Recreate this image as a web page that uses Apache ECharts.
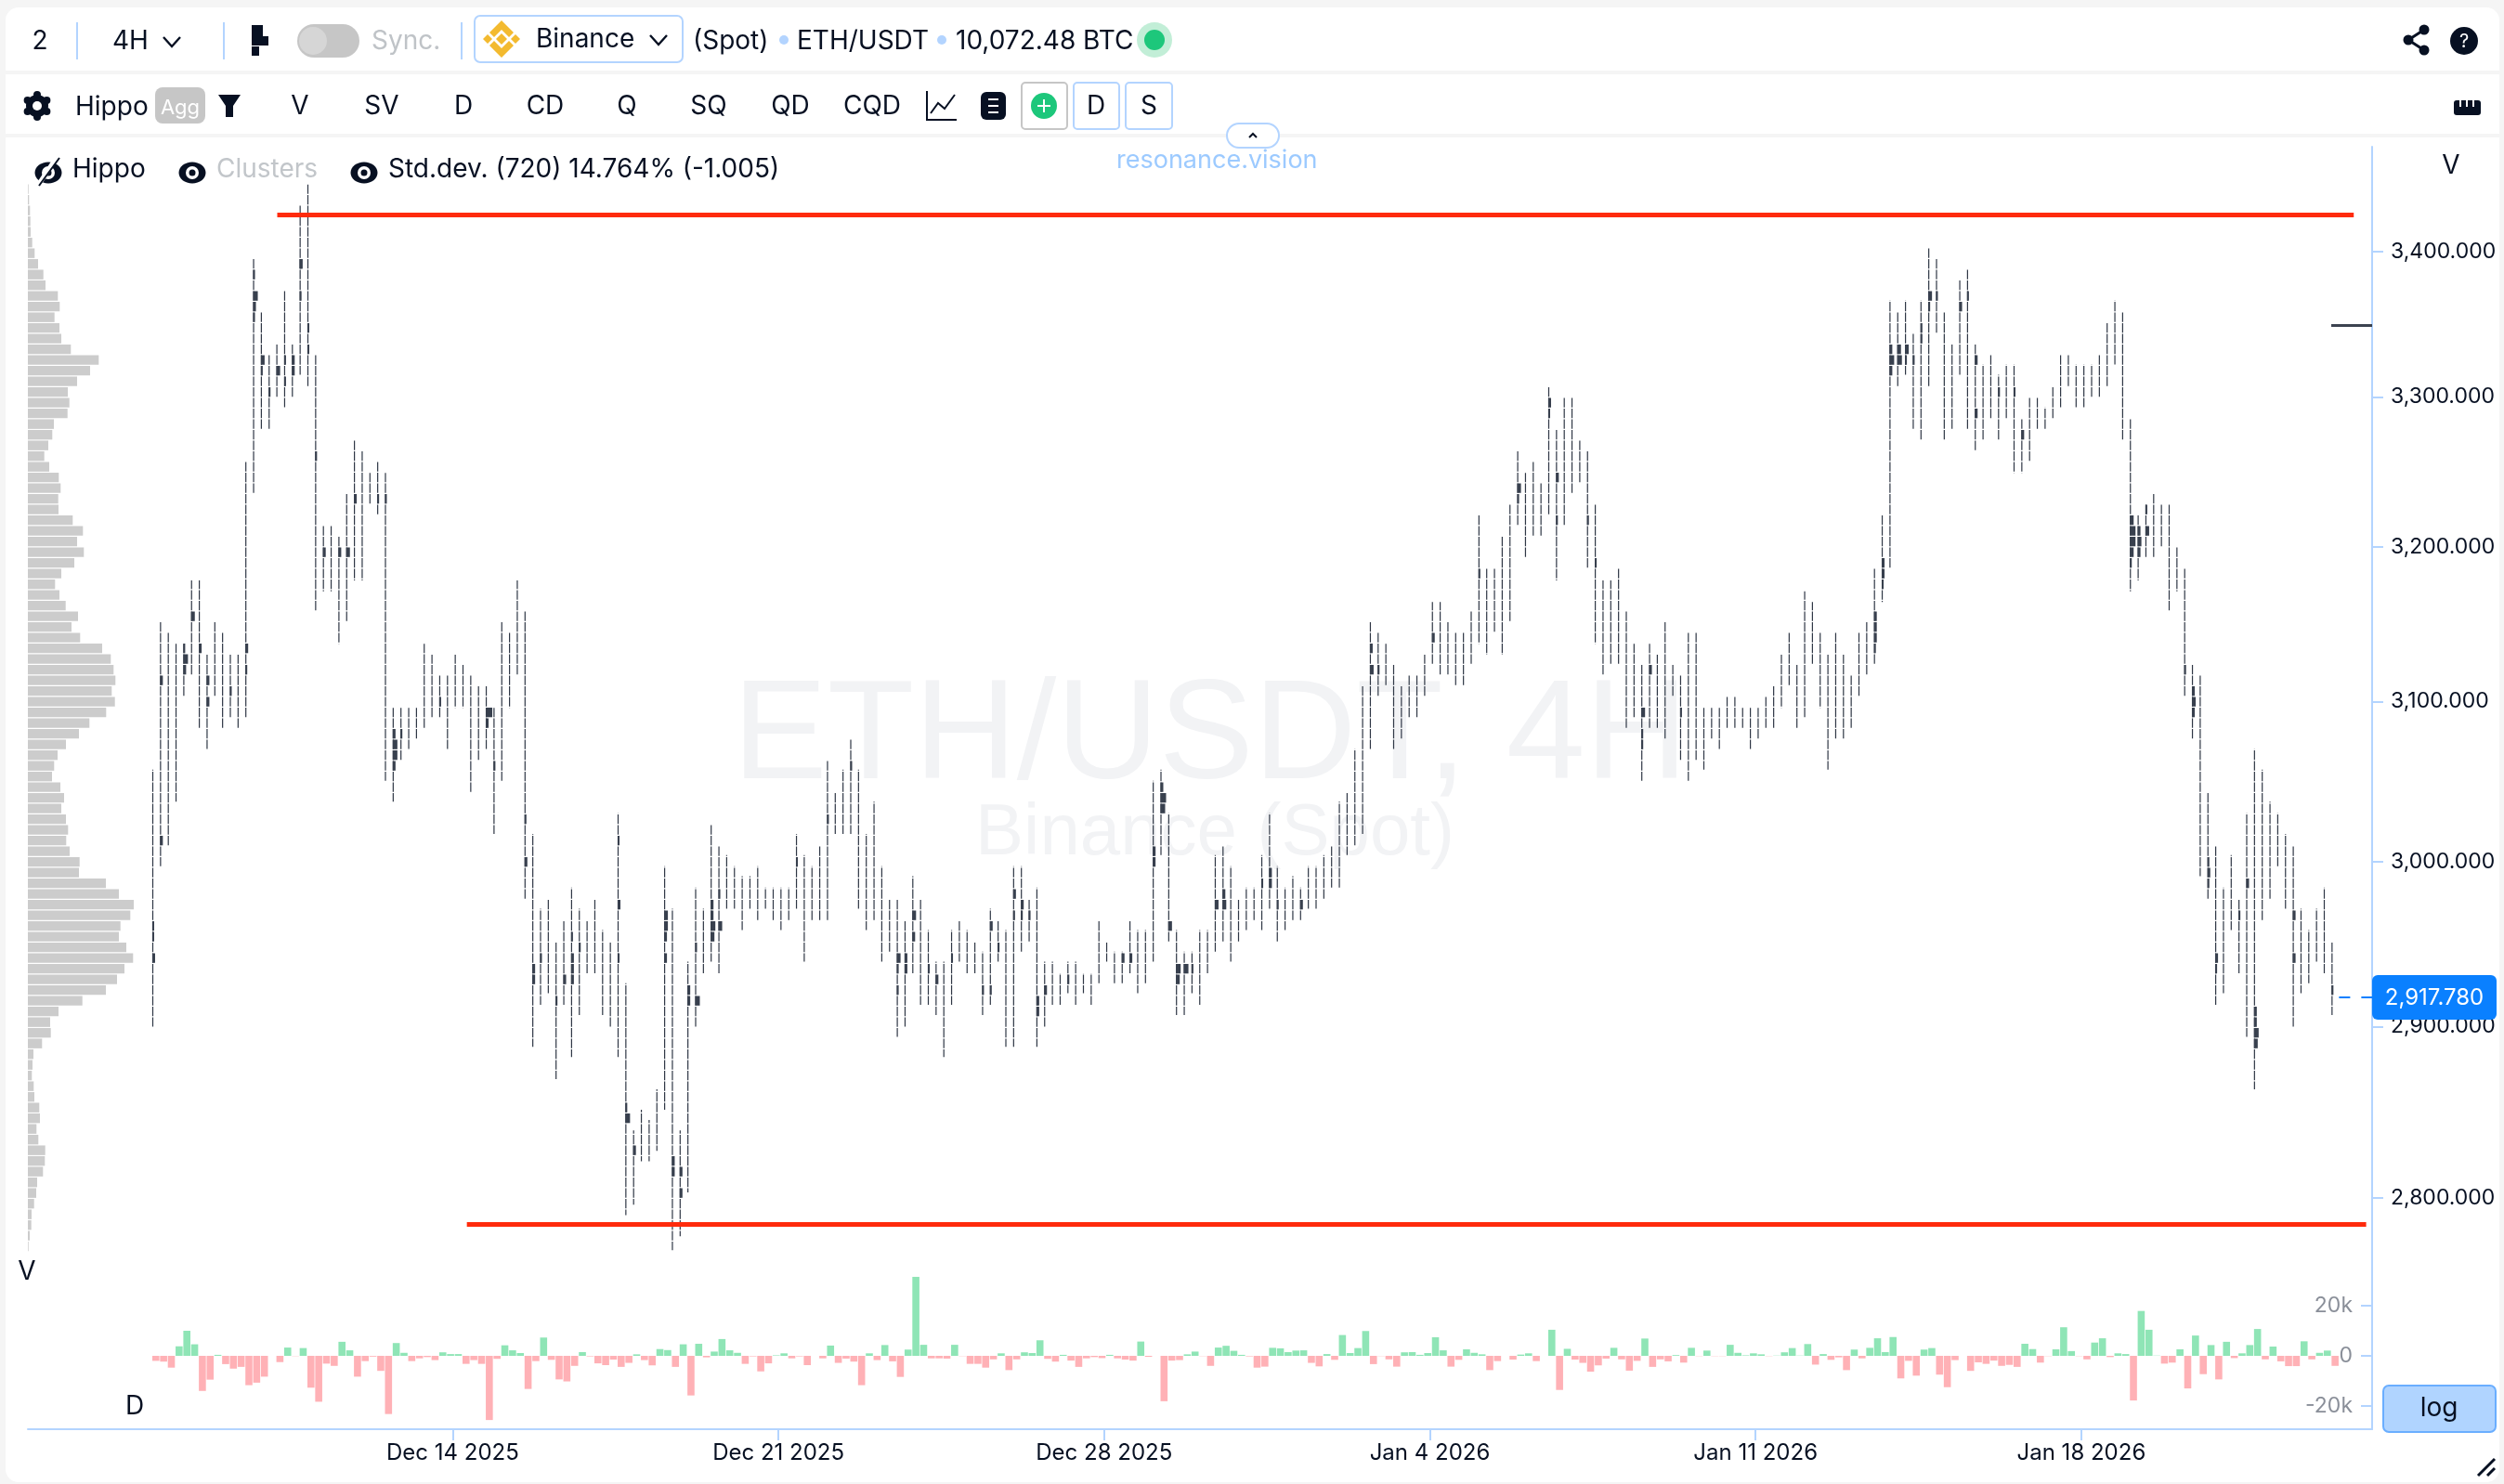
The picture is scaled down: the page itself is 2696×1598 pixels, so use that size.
<!DOCTYPE html>
<html>
<head>
<meta charset="utf-8">
<style>
  html, body { margin: 0; padding: 0; background: #f5f5f5; }
  #chart { width: 2696px; height: 1598px; }
</style>
<script src="https://cdn.jsdelivr.net/npm/echarts@6/dist/echarts.min.js"></script>
</head>
<body>
<div id="chart"></div>
<script>
// one entry per 4H bar
const barHighs = [
  3057,3151,3144,3137,3137,3178,3178,3130,3151,3144,
  3130,3130,3257,3395,3358,3329,3336,3373,3336,3432,
  3447,3329,3214,3214,3207,3235,3271,3264,3249,3257,
  3249,3096,3096,3096,3096,3137,3130,3117,3117,3130,
  3124,3117,3110,3110,3096,3151,3144,3178,3158,3017,
  2971,2977,2951,2964,2984,2971,2964,2977,2958,2951,
  3030,2926,2839,2851,2845,2863,2997,2971,2839,2939,
  2984,2971,3023,3010,3004,2997,2991,2991,2997,2984,
  2984,2984,2984,3017,3004,2997,3010,3063,3043,3057,
  3076,3057,3017,3037,2997,2977,2977,2964,2991,2977,
  2958,2939,2939,2958,2964,2958,2951,2945,2971,2964,
  2958,2997,2997,2977,2984,2939,2939,2932,2939,2939,
  2932,2932,2964,2951,2945,2945,2964,2958,2958,3050,
  3057,3030,2958,2945,2945,2958,2958,3004,3010,2997,
  2977,2984,2984,3004,3030,2997,2984,2991,2984,2997,
  2997,3004,3010,3037,3043,3070,3110,3151,3144,3137,
  3124,3110,3117,3117,3130,3164,3164,3151,3144,3144,
  3158,3221,3186,3186,3207,3228,3264,3249,3257,3242,
  3307,3278,3300,3300,3271,3264,3228,3178,3178,3186,
  3158,3137,3124,3137,3130,3151,3124,3117,3144,3144,
  3096,3096,3096,3103,3103,3096,3096,3096,3103,3110,
  3130,3144,3124,3171,3164,3144,3130,3144,3130,3117,
  3144,3151,3186,3221,3366,3358,3366,3343,3366,3402,
  3395,3358,3336,3380,3388,3336,3322,3329,3315,3322,
  3322,3285,3300,3300,3293,3307,3329,3329,3322,3322,
  3322,3329,3351,3366,3358,3285,3221,3228,3235,3228,
  3228,3200,3186,3124,3117,3043,3010,2984,3004,2977,
  3030,3070,3057,3037,3030,3017,3010,2971,2958,2971,
  2984,2951
];
const barLows = [
  2900,2997,3010,3037,3103,3117,3083,3070,3103,3083,
  3090,3083,3090,3235,3278,3278,3300,3293,3300,3315,
  3307,3158,3171,3171,3137,3151,3178,3178,3228,3221,
  3050,3037,3063,3070,3076,3083,3090,3090,3070,3096,
  3096,3043,3063,3070,3017,3050,3096,3117,2977,2888,
  2913,2920,2869,2913,2882,2907,2932,2932,2907,2900,
  2882,2790,2796,2821,2821,2827,2851,2770,2778,2803,
  2900,2932,2939,2932,2971,2971,2958,2971,2964,2971,
  2964,2958,2964,2971,2939,2964,2964,2964,3017,3017,
  3017,2971,2958,2964,2939,2945,2894,2900,2932,2913,
  2913,2907,2882,2913,2939,2932,2932,2907,2913,2939,
  2888,2888,2945,2951,2888,2900,2913,2913,2920,2913,
  2920,2913,2926,2939,2926,2926,2932,2920,2926,2939,
  3004,2951,2907,2907,2920,2913,2932,2945,2951,2939,
  2951,2958,2964,2958,2971,2951,2958,2964,2964,2971,
  2971,2977,2984,2984,3004,3010,3017,3070,3103,3110,
  3070,3076,3090,3090,3103,3124,3117,3117,3110,3110,
  3124,3137,3130,3144,3130,3151,3214,3193,3207,3207,
  3221,3178,3214,3235,3242,3186,3137,3117,3124,3124,
  3083,3090,3050,3083,3083,3076,3103,3063,3050,3063,
  3057,3076,3070,3083,3083,3083,3070,3076,3083,3083,
  3096,3110,3083,3090,3124,3096,3057,3076,3076,3083,
  3103,3117,3124,3164,3186,3307,3315,3278,3271,3307,
  3343,3271,3278,3315,3278,3264,3271,3285,3271,3285,
  3249,3249,3257,3278,3278,3285,3293,3307,3293,3293,
  3300,3300,3307,3322,3271,3171,3178,3193,3193,3200,
  3158,3171,3103,3076,2991,2977,2913,2920,2958,2932,
  2894,2863,2964,2977,2997,2971,2900,2920,2926,2939,
  2932,2907
];
// thousands, per bar
const barDelta = [
  -2,-2.3,-4.7,3.8,10,4.6,-14,-9.5,.4,-3.3,
  -5.1,-4.4,-11.7,-10.7,-8.3,0,-2.5,3.3,-.1,3.1,
  -12.7,-18.3,-3.1,-4,5.6,2.2,-8.3,-2.1,-.3,-6,
  -23.2,5.1,1.2,-2.1,-1,-.5,-1.7,1.4,.7,.7,
  -3.2,-1.7,-3.2,-25.6,-1.2,4.2,2.2,1.1,-13.2,-2.1,
  7.3,-1.6,-9.4,-10.2,-4,1.5,-.2,-3,-3.7,-1.5,
  -4.4,-2.8,.6,-1.7,-3.8,2.7,2.3,-4.4,4.6,-15.8,
  4.8,-.6,1.7,6.7,2.2,1.2,-3.2,-.2,-6.2,-3,
  .2,1,-1,-.2,-3.7,0,-1,4.1,-2.8,-1.1,
  -2.3,-11.7,1,-1.7,4.3,-2.2,-8.4,2.5,31.5,4.4,
  -1,-1,-1.1,4.4,-.1,-3.2,-3.2,-4.7,-1.4,1,
  -5.7,-1.4,1.4,1.1,6.2,-1.2,-2.3,.4,-1.9,-4.4,
  -1,-.5,-.9,.4,-1,-1.5,-1.9,5.7,-.4,0,
  -18.1,-1.9,-1.7,.6,1.7,-.1,-4,3.3,4,2,
  .4,-.2,-4.7,-4.3,3.2,3,1.5,2.1,2.2,-2.8,
  -4.2,.7,-1.6,8.3,1.1,3.1,9.9,-3.3,-.1,-1.4,
  -4.3,1.4,1.5,.4,1.1,7.4,2.2,-4.3,-1.6,2.6,
  1.2,.6,-5.7,-2.1,0,-1.5,.5,1,-2.1,0,
  10.4,-13.6,2.8,-1.5,-2.8,-6.3,-3.8,-1.1,3.2,-1.4,
  -5.9,-2,6.9,-4.4,-1.4,-2.2,.3,-2.7,3.2,-.1,
  2.1,-.1,-.1,4.4,1.2,.2,1,.6,-.1,.1,
  1.4,3.1,.1,4.7,-3.5,.7,-1.6,-.6,-5.7,2.5,
  -1,3.2,7,1.5,7.5,-9,-2,-7.9,2.5,3.1,
  -7.5,-12.5,-1.7,0,-6,-2.6,-3.2,-1.9,-4,-3.6,
  -4.4,4.8,2.7,-2.7,-.1,2.6,11.4,1.9,-.1,-1.4,
  5.3,7,-.5,1,.7,-17.8,17.9,10.4,.1,-3.1,
  -2.7,2.6,-13,8.1,-7.3,4.3,-9.4,5.6,-.9,1,
  4.3,10.7,-1.4,3.7,-2.2,-4.1,-4.1,5.8,-1.4,1.2,
  2.1,-4
];
// heavy cluster cells: bar, price, volume
const heavyCells = [
  [0,2942,3],[0,2960,2],[0,2952,2],[1,3112,3],[1,3013,3],[4,3134,2],[4,3126,5],[4,3120,3],[5,3156,4],[6,3134,3],
  [7,3113,3],[7,3100,3],[10,3110,2],[12,3134,3],[12,3120,2],[13,3381,2],[13,3371,5],[13,3364,3],[13,3356,2],
  [14,3326,4],[14,3319,2],[15,3304,2],[16,3319,4],[17,3326,2],[17,3312,2],[18,3326,3],[18,3319,3],
  [19,3395,3],[19,3388,3],[19,3371,2],[20,3346,2],[20,3332,2],[21,3260,2],[22,3196,3],[24,3196,3],[25,3196,4],
  [26,3232,3],[29,3232,2],[30,3232,2],[31,3080,3],[31,3073,5],[31,3066,5],[31,3060,3],[32,3080,2],[37,3100,2],
  [43,3093,7],[43,3086,3],[44,3060,2],[48,3025,2],[48,2999,3],[49,2936,3],[49,2930,3],[50,2942,2],[52,2916,2],
  [53,2929,3],[54,2953,2],[54,2942,3],[54,2936,3],[54,2929,3],[55,2948,2],[60,3013,2],[60,2974,3],[60,2942,2],
  [61,2848,5],[61,2854,2],[62,2825,3],[66,2968,4],[66,2962,4],[66,2955,3],[66,2942,3],[67,2816,3],[67,2822,3],
  [68,2816,3],[68,2804,3],[69,2923,3],[69,2917,3],[70,2917,5],[70,2948,2],[72,2974,3],[72,2968,3],[72,2962,5],
  [72,2955,4],[73,2962,4],[73,2981,2],[83,2999,2],[87,3023,2],[90,3060,2],
  [96,2942,4],[96,2936,2],[96,2923,2],[97,2942,3],[97,2936,3],[98,2968,4],[98,2955,3],[100,2936,2],[101,2929,3],
  [103,2942,2],[107,2923,2],[108,2962,3],[108,2923,2],[109,2948,2],[111,2981,3],[111,2968,2],[112,2974,3],
  [112,2968,2],[113,2968,2],[114,2910,3],[114,2917,3],[115,2923,3],[118,2929,2],[125,2942,3],[126,2942,3],
  [129,3007,3],[129,3000,3],[130,3047,3],[130,3040,6],[130,3033,5],[131,2962,4],[132,2936,5],[132,2929,4],
  [133,2936,5],[134,2936,2],[137,2974,4],[138,2981,3],[138,2974,4],[143,2987,2],[144,2994,3],[144,2987,3],
  [145,2974,2],[148,2974,3],[157,3134,3],[157,3120,4],[158,3120,2],[165,3141,3],[171,3183,2],[176,3239,4],
  [176,3232,2],[180,3296,3],[180,3289,2],[181,3246,3],[181,3218,2],[185,3218,2],[186,3189,2],
  [192,3093,4],[192,3080,2],[192,3073,2],[193,3120,3],[197,3093,2],[222,3155,3],[222,3148,3],[222,3141,3],
  [222,3134,2],[223,3189,3],[223,3182,3],[223,3175,2],[224,3331,3],[224,3325,5],[224,3318,3],[225,3331,4],
  [225,3325,5],[226,3331,4],[226,3325,2],[227,3325,2],[228,3347,2],[228,3340,2],[229,3369,4],[229,3362,2],
  [230,3369,2],[233,3362,3],[234,3369,2],[235,3325,3],[235,3289,3],[238,3304,2],[240,3304,2],[241,3275,3],
  [255,3218,4],[255,3211,6],[255,3204,6],[255,3197,4],[255,3189,2],[256,3211,3],[256,3204,4],[256,3197,3],
  [257,3225,2],[257,3211,4],[262,3120,2],[263,3106,3],[263,3100,4],[263,3093,3],[265,3000,2],[265,2994,3],
  [265,2987,2],[266,2942,3],[266,2936,2],[269,2968,2],[270,2987,3],[271,2910,3],[271,2904,3],[271,2897,5],
  [271,2891,4],[276,2968,3],[276,2942,3],[281,2923,2]
];
// volume profile, top row to bottom row
const profileVolume = [
  .7,1.3,2.3,2.7,3,4.7,7.3,11,16.7,19,
  32.3,34.3,28.7,34,36,46.3,76.3,67,53,43,
  44.7,42.7,28,26.3,22,17.7,23,33.3,35.3,32.7,
  33,48.3,59.3,53,60.3,50,36,29.3,34,40.7,
  54,47,56.3,80,89.3,92.3,94.3,90.3,93.7,84.3,
  66.3,55,41,32,28.3,26,35,39,36,41,
  43.3,41.3,45,55.7,55,84,98,114,110.3,99.7,
  98,106,113.3,104,96,84,58.7,33,24,24.7,
  15.3,6,5,4.3,6.3,7,12.3,13,9.3,11.3,
  18.7,18.3,16.3,10,9,6.7,4,3.7,2,.7
];
const dateLabels = ['Dec 14 2025', 'Dec 21 2025', 'Dec 28 2025', 'Jan 4 2026', 'Jan 11 2026', 'Jan 18 2026'];
const dateTickBars = [38.67, 80.67, 122.67, 164.67, 206.67, 248.67];
const priceTicks = [2800, 2900, 3000, 3100, 3200, 3300, 3400];
const deltaTicks = [-20, 0, 20];
const lastPrice = 2917.78;
const upperLevel = 3425.8;
const lowerLevel = 2785;
const markerPrice = 3349;

const FONT = 'Inter';
const INK = '#071022';
const BLUE_LINE = '#b3d4ff';
const BAR_INK = '#2f3745';
const LEVEL_RED = '#ff2b0c';
const WATERMARK = '#f2f3f5';
const CELL = 11.5;
const CELL_GAP = 1.2;
const CELL_PHASE = 312.9;

// pixel bands of the chart panes
const X_LEFT = 30, X_RIGHT = 2554, BAR_X0 = 164.5, BAR_PITCH = 8.35;
const xMin = (X_LEFT - BAR_X0) / BAR_PITCH;
const xMax = (X_RIGHT - BAR_X0) / BAR_PITCH;

const chart = echarts.init(document.getElementById('chart'));

const cellOffset = y => (((y - CELL_PHASE - CELL_GAP / 2) % CELL) + CELL) % CELL;

function renderBar(params, api) {
  const hi = api.coord([api.value(0), api.value(1)]);
  const lo = api.coord([api.value(0), api.value(2)]);
  return {
    type: 'line',
    shape: { x1: hi[0], y1: hi[1], x2: lo[0], y2: lo[1] },
    style: { stroke: BAR_INK, lineWidth: 1.2, lineDash: [CELL - CELL_GAP, CELL_GAP], lineDashOffset: cellOffset(hi[1]) }
  };
}

function renderCell(params, api) {
  const c = api.coord([api.value(0), api.value(1)]);
  const top = CELL_PHASE + Math.floor((c[1] - CELL_PHASE) / CELL) * CELL;
  return {
    type: 'rect',
    shape: { x: c[0] - 0.5, y: top + CELL_GAP / 2, width: api.value(2), height: CELL - CELL_GAP },
    style: { fill: '#38404e' }
  };
}

function renderDelta(params, api) {
  const v = api.value(1);
  const a = api.coord([api.value(0), 0]);
  const b = api.coord([api.value(0), v]);
  return {
    type: 'rect',
    shape: { x: a[0] - 0.5, y: Math.min(a[1], b[1]), width: 7.6, height: Math.abs(a[1] - b[1]) },
    style: { fill: v >= 0 ? '#8fe5b6' : '#ffb1b6' }
  };
}

// toolbar helpers
const txt = (x, y, text, o = {}) => ({
  type: 'text', x, y, z: o.z || 5,
  style: { text, fontFamily: FONT, fontSize: o.size || 28, fill: o.fill || INK, align: o.align || 'left', verticalAlign: 'middle' }
});
const box = (x, y, w, h, r, fill, stroke, lw) => ({
  type: 'rect', z: 4, shape: { x, y, width: w, height: h, r },
  style: { fill: fill || 'none', stroke: stroke || 'none', lineWidth: lw || 0 }
});
const dot = (cx, cy, r, fill) => ({ type: 'circle', z: 4, shape: { cx, cy, r }, style: { fill } });
const stroke = (points, color, lw) => ({
  type: 'polyline', z: 4, shape: { points }, style: { stroke: color || INK, lineWidth: lw || 2, fill: 'none' }
});
const poly = (points, fill) => ({ type: 'polygon', z: 4, shape: { points }, style: { fill } });
const chevron = (cx, cy) => stroke([[cx - 9, cy - 5], [cx, cy + 5], [cx + 9, cy - 5]], INK, 2.4);
const eye = (cx, cy) => [
  { type: 'ellipse', z: 4, shape: { cx, cy, rx: 14.5, ry: 11.5 }, style: { fill: INK } },
  dot(cx, cy, 7, '#fff'), dot(cx, cy, 3.5, INK)
];

function gear(cx, cy) {
  const parts = [dot(cx, cy, 12, INK)];
  for (let k = 0; k < 6; k++) {
    const a = k * Math.PI / 3 + Math.PI / 6;
    parts.push(dot(cx + 12 * Math.cos(a), cy + 12 * Math.sin(a), 4, INK));
  }
  parts.push(dot(cx, cy, 5, '#fff'));
  return parts;
}

const toolbar = [
  // panel and watermark sit under the series
  { type: 'rect', z: -3, shape: { x: 6, y: 8, width: 2685, height: 1588, r: 14 }, style: { fill: '#fff' } },
  { type: 'rect', z: -2, shape: { x: 6, y: 76, width: 2685, height: 4 }, style: { fill: '#f5f5f5' } },
  { type: 'rect', z: -2, shape: { x: 6, y: 144, width: 2685, height: 4 }, style: { fill: '#f5f5f5' } },
  { type: 'text', z: -1, x: 1303, y: 872, style: { text: 'ETH/USDT, 4H', fontFamily: 'Liberation Sans', fontSize: 153, fill: WATERMARK, align: 'center', verticalAlign: 'bottom' } },
  { type: 'text', z: -1, x: 1308, y: 937, style: { text: 'Binance (Spot)', fontFamily: 'Liberation Sans', fontSize: 78, fill: WATERMARK, align: 'center', verticalAlign: 'bottom' } },

  // first row
  txt(43, 45, '2', { align: 'center' }),
  box(82, 24, 2, 40, 0, BLUE_LINE),
  txt(121, 45, '4H'),
  chevron(185, 45),
  box(240, 24, 2, 40, 0, BLUE_LINE),
  box(271, 27, 12, 12, 0, INK), box(271, 39, 18, 10, 0, INK), box(271, 50, 8, 10, 0, INK),
  box(320, 26, 67, 36, 18, '#c6c6c6'),
  dot(337, 44, 15, '#d6d6d6'),
  txt(400, 45, 'Sync.', { fill: '#bfc3c7' }),
  box(496, 24, 2, 40, 0, BLUE_LINE),
  box(511, 17, 224, 50, 6, '#fff', BLUE_LINE, 2),
  poly([[540, 22], [553, 35], [548, 40], [540, 32], [532, 40], [527, 35]], '#f3ba2f'),
  poly([[540, 62], [553, 49], [548, 44], [540, 52], [532, 44], [527, 49]], '#f3ba2f'),
  poly([[540, 36], [546, 42], [540, 48], [534, 42]], '#f3ba2f'),
  poly([[525, 37], [530, 42], [525, 47], [520, 42]], '#f3ba2f'),
  poly([[555, 37], [560, 42], [555, 47], [550, 42]], '#f3ba2f'),
  txt(577, 43, 'Binance'),
  chevron(709, 43),
  txt(746, 45, '(Spot)'),
  dot(844, 43, 5, BLUE_LINE),
  txt(858, 45, 'ETH/USDT'),
  dot(1014, 43, 5, BLUE_LINE),
  txt(1029, 45, '10,072.48 BTC'),
  dot(1243, 43, 19, '#c2eed7'), dot(1243, 43, 11, '#1dc77b'),
  stroke([[2610, 32], [2593, 43], [2610, 54]], INK, 3),
  dot(2610, 32, 5.5, INK), dot(2593, 43, 5.5, INK), dot(2610, 54, 5.5, INK),
  dot(2653, 44, 15, INK),
  txt(2653, 45, '?', { align: 'center', fill: '#fff', size: 20 }),

  // second row
  ...gear(40, 114),
  txt(81, 116, 'Hippo'),
  box(167, 94, 54, 39, 8, '#c6c6c6'),
  txt(194, 116, 'Agg', { align: 'center', fill: '#fff', size: 22 }),
  poly([[235, 102], [259, 102], [251, 114], [251, 126], [243, 126], [243, 114]], INK),
  ...['V', 'SV', 'D', 'CD', 'Q', 'SQ', 'QD', 'CQD'].map((t, k) => txt(323 + 88 * k, 115, t, { align: 'center' })),
  stroke([[998, 98], [998, 129], [1030, 129]], INK, 2),
  stroke([[1002, 122], [1010, 111], [1017, 117], [1028, 102]], INK, 2),
  box(1056, 99, 27, 30, 6, INK),
  box(1064, 106, 11, 2, 0, '#fff'), box(1064, 113, 11, 2, 0, '#fff'), box(1064, 120, 11, 2, 0, '#fff'),
  box(1100, 89, 49, 50, 4, '#fff', '#c6c6c6', 2),
  dot(1124, 114, 14, '#1dc77b'),
  box(1117, 113, 14, 2, 0, '#fff'), box(1123, 107, 2, 14, 0, '#fff'),
  box(1156, 89, 49, 50, 4, '#fff', BLUE_LINE, 2),
  txt(1180, 115, 'D', { align: 'center' }),
  box(1212, 89, 50, 50, 4, '#fff', BLUE_LINE, 2),
  txt(1237, 115, 'S', { align: 'center' }),
  box(2642, 108, 29, 16, 3, INK),
  box(2648, 108, 2, 7, 0, '#fff'), box(2655, 108, 2, 7, 0, '#fff'), box(2662, 108, 2, 7, 0, '#fff'),

  // collapse handle and site name
  box(1321, 133, 56, 26, 13, '#fff', BLUE_LINE, 2),
  stroke([[1345, 148], [1349, 144], [1353, 148]], INK, 2),
  txt(1202, 173, 'resonance.vision', { fill: '#9ccaff', size: 27 }),

  // legend
  ...eye(52, 186),
  { type: 'line', z: 4, shape: { x1: 62, y1: 168, x2: 42, y2: 198 }, style: { stroke: '#fff', lineWidth: 5 } },
  { type: 'line', z: 4, shape: { x1: 64, y1: 170, x2: 42, y2: 200 }, style: { stroke: INK, lineWidth: 2 } },
  txt(78, 183, 'Hippo'),
  ...eye(207, 186),
  txt(233, 183, 'Clusters', { fill: '#c2c6ca' }),
  ...eye(392, 186),
  txt(418, 183, 'Std.dev. (720) 14.764% (-1.005)'),

  // pane captions
  txt(2639, 179, 'V', { align: 'center' }),
  txt(29, 1370, 'V', { align: 'center' }),
  txt(145, 1515, 'D', { align: 'center' }),

  // last price flag
  box(2554, 1050, 134, 48, 6, '#0a80ff'),
  txt(2621, 1075, '2,917.780', { align: 'center', fill: '#fff', size: 24 }),

  // log toggle and resize grip
  box(2566, 1492, 121, 50, 6, '#b0d4ff', '#6aaeff', 2),
  txt(2626, 1517, 'log', { align: 'center' }),
  { type: 'line', z: 4, shape: { x1: 2668, y1: 1589, x2: 2686, y2: 1571 }, style: { stroke: INK, lineWidth: 3 } },
  { type: 'line', z: 4, shape: { x1: 2678, y1: 1589, x2: 2686, y2: 1581 }, style: { stroke: INK, lineWidth: 3 } }
];

chart.setOption({
  animation: false,
  backgroundColor: '#f5f5f5',
  graphic: { elements: toolbar },
  grid: [
    { left: X_LEFT, top: 158, width: X_RIGHT - X_LEFT, height: 1212 },
    { left: X_LEFT, top: 1370, width: X_RIGHT - X_LEFT, height: 169 },
    { left: X_LEFT, top: 197.9, width: 150, height: 1150 }
  ],
  xAxis: [
    { type: 'value', gridIndex: 0, min: xMin, max: xMax, show: false },
    {
      type: 'value', gridIndex: 1, min: xMin, max: xMax,
      splitLine: { show: false },
      axisLine: { show: true, onZero: false, lineStyle: { color: BLUE_LINE, width: 2 } },
      axisTick: { show: true, length: 12, customValues: dateTickBars, lineStyle: { color: BLUE_LINE, width: 2 } },
      axisLabel: {
        margin: 14, fontFamily: FONT, fontSize: 24, color: INK,
        customValues: dateTickBars,
        formatter: v => dateLabels[dateTickBars.indexOf(v)] || ''
      }
    },
    { type: 'value', gridIndex: 2, min: 0, max: 150, show: false }
  ],
  yAxis: [
    {
      type: 'log', gridIndex: 0, position: 'right', min: 2757.5, max: 3473.8,
      splitLine: { show: false },
      axisLine: { show: true, onZero: false, lineStyle: { color: BLUE_LINE, width: 2 } },
      axisTick: { show: true, length: 12, customValues: priceTicks, lineStyle: { color: BLUE_LINE, width: 2 } },
      axisLabel: {
        margin: 20, fontFamily: FONT, fontSize: 23, color: INK,
        customValues: priceTicks,
        formatter: v => Math.round(v).toLocaleString('en-US') + '.000'
      }
    },
    {
      type: 'value', gridIndex: 1, position: 'right', min: -29.26, max: 33.33,
      splitLine: { show: false },
      axisLine: { show: true, onZero: false, lineStyle: { color: BLUE_LINE, width: 2 } },
      axisTick: { show: true, inside: true, length: 12, customValues: deltaTicks, lineStyle: { color: BLUE_LINE, width: 2 } },
      axisLabel: {
        inside: true, margin: 21, fontFamily: FONT, fontSize: 23, color: '#8a8f99',
        customValues: deltaTicks,
        formatter: v => (v === 0 ? '0' : v + 'k')
      }
    },
    { type: 'category', gridIndex: 2, inverse: true, show: false, data: profileVolume.map((v, k) => k) }
  ],
  series: [
    {
      type: 'bar', xAxisIndex: 2, yAxisIndex: 2, barWidth: 10.4, silent: true,
      itemStyle: { color: '#cccccc' },
      data: profileVolume
    },
    {
      type: 'custom', xAxisIndex: 0, yAxisIndex: 0, silent: true, z: 3,
      encode: { x: 0, y: [1, 2] },
      renderItem: renderBar,
      data: barHighs.map((h, k) => [k, h, barLows[k]])
    },
    {
      type: 'custom', xAxisIndex: 0, yAxisIndex: 0, silent: true, z: 3,
      encode: { x: 0, y: 1 },
      renderItem: renderCell,
      data: heavyCells
    },
    {
      type: 'custom', xAxisIndex: 1, yAxisIndex: 1, silent: true,
      encode: { x: 0, y: 1 },
      renderItem: renderDelta,
      data: barDelta.map((d, k) => [k, d])
    },
    {
      type: 'line', xAxisIndex: 0, yAxisIndex: 0, silent: true, z: 4, data: [], symbol: 'none',
      markLine: {
        silent: true, symbol: 'none', animation: false, label: { show: false },
        data: [
          [{ xAxis: 16.05, yAxis: upperLevel, lineStyle: { color: LEVEL_RED, width: 5, type: 'solid' } }, { xAxis: 283.8, yAxis: upperLevel }],
          [{ xAxis: 40.5, yAxis: lowerLevel, lineStyle: { color: LEVEL_RED, width: 5, type: 'solid' } }, { xAxis: 285.4, yAxis: lowerLevel }],
          [{ xAxis: 280.9, yAxis: markerPrice, lineStyle: { color: '#3c4350', width: 3, type: 'solid' } }, { xAxis: xMax, yAxis: markerPrice }],
          [{ xAxis: 281.9, yAxis: lastPrice, lineStyle: { color: '#0a80ff', width: 2, type: [12, 12] } }, { xAxis: xMax, yAxis: lastPrice }]
        ]
      }
    }
  ]
});
</script>
</body>
</html>
